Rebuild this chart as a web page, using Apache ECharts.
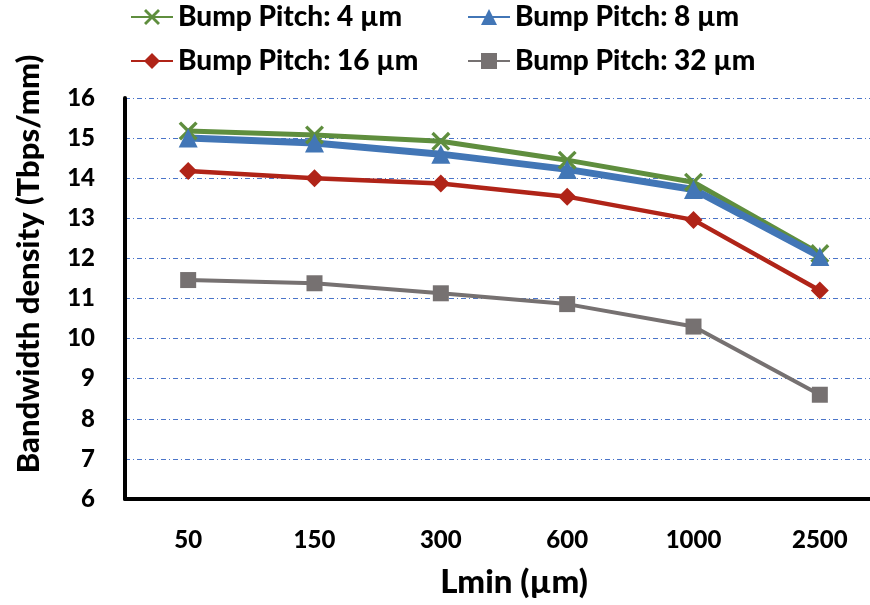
<!DOCTYPE html>
<html lang="en">
<head>
    <meta charset="UTF-8">
    <title>Bandwidth density</title>
</head>
<body style="margin: 0; overflow: hidden">
    <div id="container" style="width:883px;height:605px"></div>
    <script src="https://cdn.jsdelivr.net/npm/echarts@6.0.0/dist/echarts.min.js"></script>
    <script type="text/javascript">
        // x categories, Lmin (um)
        var lmin = ['50', '150', '300', '600', '1000', '2500'];
        // bandwidth density (Tbps/mm) per bump pitch
        var pitch4 = [15.18, 15.08, 14.92, 14.45, 13.9, 12.12];
        var pitch8 = [15.0, 14.88, 14.6, 14.22, 13.72, 12.05];
        var pitch16 = [14.18, 14.0, 13.87, 13.54, 12.96, 11.2];
        var pitch32 = [11.46, 11.38, 11.13, 10.86, 10.3, 8.6];

        var crossPath = 'path://M0,2.5 L2.5,0 L10,7.5 L17.5,0 L20,2.5 L12.5,10 L20,17.5 L17.5,20 L10,12.5 L2.5,20 L0,17.5 L7.5,10 Z';
        var font = 'Lato';

        var dom = document.getElementById('container');
        var myChart = echarts.init(dom);

        function line(name, data, color, width, symbol, size) {
            return {
                name: name,
                type: 'line',
                data: data,
                symbol: symbol,
                symbolSize: size,
                itemStyle: { color: color },
                lineStyle: { color: color, width: width },
                animation: false
            };
        }

        var legendText = { fontFamily: font, fontWeight: 900, fontSize: 28, lineHeight: 28, color: '#000' };

        var option = {
            backgroundColor: '#fff',
            legend: [
                {
                    data: ['Bump Pitch: 4 µm', 'Bump Pitch: 16 µm'],
                    orient: 'vertical',
                    left: 130, top: 3, padding: 0, itemGap: 16, itemWidth: 42, itemHeight: 20,
                    textStyle: legendText
                },
                {
                    data: ['Bump Pitch: 8 µm', 'Bump Pitch: 32 µm'],
                    orient: 'vertical',
                    left: 467, top: 3, padding: 0, itemGap: 16, itemWidth: 42, itemHeight: 20,
                    textStyle: legendText
                }
            ],
            graphic: [
                {
                    type: 'text',
                    x: 29, y: 264,
                    rotation: Math.PI / 2,
                    style: {
                        text: 'Bandwidth density (Tbps/mm)',
                        fontFamily: font, fontWeight: 900, fontSize: 31, fill: '#000',
                        align: 'center', verticalAlign: 'middle'
                    }
                }
            ],
            grid: { left: 125, right: 0, top: 98, bottom: 106 },
            xAxis: {
                type: 'category',
                data: lmin,
                name: 'Lmin (µm)',
                nameLocation: 'middle',
                nameGap: 67,
                nameTextStyle: { fontFamily: font, fontWeight: 900, fontSize: 33, color: '#000', padding: [0, 0, 0, 20] },
                axisLine: { lineStyle: { color: '#000', width: 4 } },
                axisTick: { show: false },
                axisLabel: { fontFamily: font, fontWeight: 900, fontSize: 24, color: '#000', margin: 29 }
            },
            yAxis: {
                type: 'value',
                min: 6,
                max: 16,
                interval: 1,
                axisLine: { show: true, lineStyle: { color: '#000', width: 4 } },
                axisTick: { show: false },
                axisLabel: { fontFamily: font, fontWeight: 900, fontSize: 24, color: '#000', margin: 30 },
                splitLine: { lineStyle: { color: '#4a74c8', width: 1, type: [5, 3, 1, 3] } }
            },
            series: [
                line('Bump Pitch: 4 µm', pitch4, '#5f8e3e', 5, crossPath, 19),
                line('Bump Pitch: 8 µm', pitch8, '#4276b6', 7, 'triangle', 19),
                line('Bump Pitch: 16 µm', pitch16, '#b02418', 4.5, 'diamond', 18),
                line('Bump Pitch: 32 µm', pitch32, '#767171', 4, 'rect', 16)
            ]
        };
        myChart.setOption(option);
    </script>
</body>
</html>
